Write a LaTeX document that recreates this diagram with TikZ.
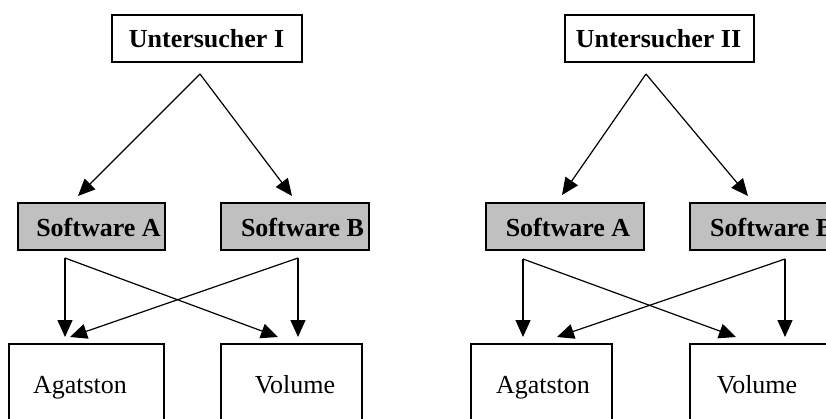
\documentclass[tikz,border=0pt]{standalone}
\usepackage{fontspec}
\setmainfont{Liberation Serif}
\usetikzlibrary{arrows.meta}
\begin{document}
\begin{tikzpicture}[x=1pt,y=-1pt,
  box/.style={draw=black,line width=1.6pt,inner sep=0pt,outer sep=0pt},
  swbox/.style={box,fill=swgray},
  lbl/.style={inner sep=0pt,anchor=base,font=\fontsize{26}{30}\selectfont},
  blbl/.style={lbl,font=\fontsize{26}{30}\selectfont\bfseries},
  conn/.style={draw=black,line width=1.2pt,-{Triangle[length=17pt,width=15pt]}}
]
\definecolor{swgray}{RGB}{192,192,192}
\useasboundingbox (0,0) rectangle (826,419);
\clip (0,0) rectangle (826,419);
% boxes
\node[box,minimum width=190pt,minimum height=47pt] (u1) at (207,38.5) {};
\node[box,minimum width=189pt,minimum height=47pt] (u2) at (659.5,38.5) {};
\node[swbox,minimum width=147pt,minimum height=47pt] (sa1) at (91.5,226.5) {};
\node[swbox,minimum width=148pt,minimum height=47pt] (sb1) at (295,226.5) {};
\node[swbox,minimum width=158pt,minimum height=47pt] (sa2) at (565,226.5) {};
\node[swbox,minimum width=170pt,minimum height=47pt] (sb2) at (775,226.5) {};
\node[box,minimum width=155pt,minimum height=120pt] (ag1) at (86.5,404) {};
\node[box,minimum width=141pt,minimum height=120pt] (vo1) at (291.5,404) {};
\node[box,minimum width=141pt,minimum height=120pt] (ag2) at (541.5,404) {};
\node[box,minimum width=160pt,minimum height=120pt] (vo2) at (770,404) {};
% labels
\node[blbl] (tu1) at (206.5,48) {Untersucher I};
\node[blbl] (tu2) at (658.5,48) {Untersucher II};
\node[blbl] (tsa1) at (98.5,237) {Software A};
\node[blbl] (tsb1) at (302.5,237) {Software B};
\node[blbl] (tsa2) at (568,237) {Software A};
\node[blbl,anchor=base west] (tsb2) at (710,237) {Software B};
\node[lbl] (tag1) at (80,393) {Agatston};
\node[lbl] (tvo1) at (295,393) {Volume};
\node[lbl] (tag2) at (543,393) {Agatston};
\node[lbl] (tvo2) at (757,393) {Volume};
% connector coordinates
\coordinate (p1) at (200,74);
\coordinate (p2) at (646,74);
\coordinate (t1a) at (78,196);
\coordinate (t1b) at (292,196);
\coordinate (t2a) at (562,195);
\coordinate (t2b) at (748,196);
\coordinate (a1) at (65,258);
\coordinate (b1) at (298,258);
\coordinate (a2) at (523,259);
\coordinate (b2) at (785,259);
\coordinate (a1d) at (65,337);
\coordinate (b1d) at (298,337);
\coordinate (a1x) at (278,337);
\coordinate (b1x) at (70,337);
\coordinate (a2d) at (523,337);
\coordinate (b2d) at (785,337);
\coordinate (a2x) at (736,337);
\coordinate (b2x) at (557,337);
% connectors
\draw[conn] (p1) -- (t1a);
\draw[conn] (p1) -- (t1b);
\draw[conn] (p2) -- (t2a);
\draw[conn] (p2) -- (t2b);
\draw[conn] (a1) -- (a1d);
\draw[conn] (a1) -- (a1x);
\draw[conn] (b1) -- (b1d);
\draw[conn] (b1) -- (b1x);
\draw[conn] (a2) -- (a2d);
\draw[conn] (a2) -- (a2x);
\draw[conn] (b2) -- (b2d);
\draw[conn] (b2) -- (b2x);
\end{tikzpicture}
\end{document}
